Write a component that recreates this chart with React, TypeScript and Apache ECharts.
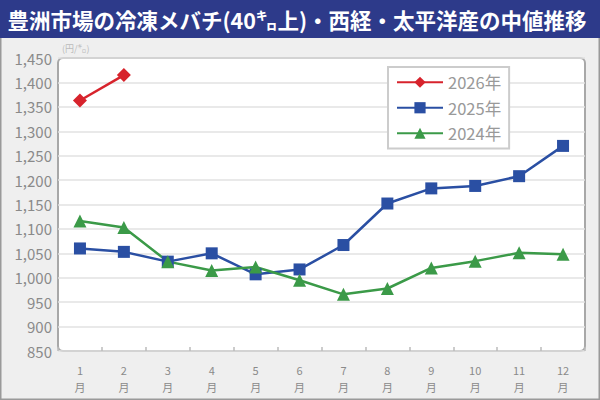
import React, { useEffect, useRef } from "react";
import * as echarts from "echarts";

const months = ["1\n月", "2\n月", "3\n月", "4\n月", "5\n月", "6\n月", "7\n月", "8\n月", "9\n月", "10\n月", "11\n月", "12\n月"];
const s2026 = [1363, 1415];
const s2025 = [1060, 1053, 1033, 1050, 1007, 1017, 1067, 1152, 1183, 1188, 1208, 1270];
const s2024 = [1116, 1103, 1033, 1015, 1022, 995, 966, 978, 1020, 1034, 1051, 1048];
const seriesNames = ["2026年", "2025年", "2024年"];
const colors = ["#d7232c", "#2a4fa3", "#3b9a48"];
const yTicks = { min: 850, max: 1450, step: 50 };

const FONT = "'Noto Sans CJK JP', 'Noto Sans', sans-serif";

export default function App() {
  const ref = useRef<HTMLDivElement>(null);
  useEffect(() => {
    if (!ref.current) return;
    const chart = echarts.init(ref.current, undefined, { renderer: "svg" });
    const mk = (name: string, data: number[], color: string, symbol: string, size: number) => ({
      name,
      type: "line",
      data,
      symbol,
      symbolSize: size,
      lineStyle: { color, width: 2.5 },
      itemStyle: { color },
      z: 3,
    });
    chart.setOption({
      animation: false,
      backgroundColor: "#efefef",
      textStyle: { fontFamily: FONT },
      graphic: [
        { type: "rect", shape: { x: 0.5, y: 0.5, width: 599, height: 399 }, style: { fill: "none", stroke: "#9a9a9a", lineWidth: 2 }, z: -2 },
        { type: "rect", shape: { x: 0, y: 0, width: 600, height: 38 }, style: { fill: "#2d3a8a" }, z: -1 },
        {
          type: "text",
          x: 297,
          y: 19,
          style: {
            text: "豊洲市場の冷凍メバチ(40㌔上)・西経・太平洋産の中値推移",
            fill: "#ffffff",
            font: `bold 21.5px ${FONT}`,
            align: "center",
            verticalAlign: "middle",
          },
        },
        { type: "rect", shape: { x: 58, y: 58, width: 527, height: 293, r: 5 }, style: { fill: "#ffffff", stroke: "#a8a8a8", lineWidth: 2 }, z: -1 },
        {
          type: "text",
          x: 62,
          y: 48,
          style: { text: "(円/㌔)", fill: "#bbbbbb", font: `9px ${FONT}`, verticalAlign: "middle" },
        },
      ],
      legend: {
        orient: "vertical",
        left: 388,
        top: 67,
        data: seriesNames,
        backgroundColor: "#ffffff",
        borderColor: "#cccccc",
        borderWidth: 2,
        padding: [7, 8, 7, 8],
        itemGap: 9,
        itemWidth: 46,
        itemHeight: 14,
        textStyle: { color: "#999999", fontSize: 16.5, fontFamily: FONT },
      },
      grid: { left: 58, right: 15, top: 58, bottom: 49, show: false },
      xAxis: {
        type: "category",
        data: months,
        boundaryGap: true,
        axisLine: { show: false },
        axisTick: { show: true, inside: true, length: 4, lineStyle: { color: "#bbbbbb", width: 1.5 } },
        axisLabel: { color: "#8a8a8a", fontSize: 11, lineHeight: 17, margin: 10 },
        splitLine: { show: false },
      },
      yAxis: {
        type: "value",
        min: yTicks.min,
        max: yTicks.max,
        interval: yTicks.step,
        axisLine: { show: false },
        axisTick: { show: false },
        axisLabel: {
          color: "#8a8a8a",
          fontSize: 15,
          margin: 6,
          formatter: (v: number) => v.toLocaleString("en-US"),
        },
        splitLine: { lineStyle: { color: "#e2e2e2", width: 1.5 } },
      },
      series: [
        mk(seriesNames[0], s2026, colors[0], "diamond", 14),
        mk(seriesNames[1], s2025, colors[1], "rect", 12),
        mk(seriesNames[2], s2024, colors[2], "triangle", 13),
      ],
    });
    return () => chart.dispose();
  }, []);
  return <div ref={ref} style={{ position: "fixed", left: 0, top: 0, width: 600, height: 400 }} />;
}
